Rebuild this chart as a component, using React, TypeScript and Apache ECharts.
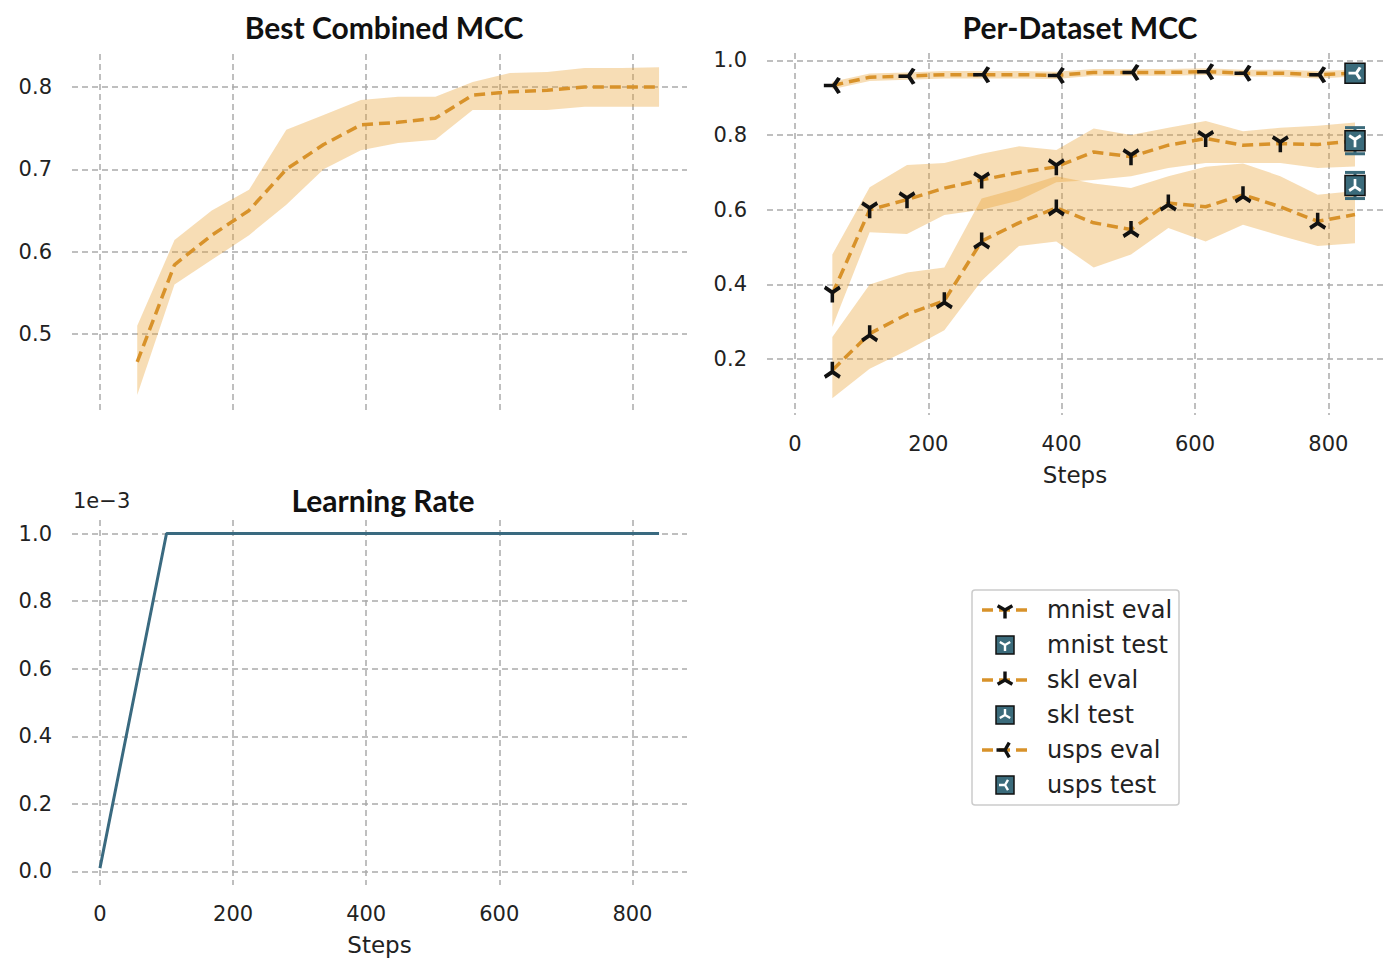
import React, { useEffect, useRef } from 'react';
import * as echarts from 'echarts';

const evalSteps = [56, 112, 168, 224, 280, 336, 392, 448, 504, 560, 616, 672, 728, 784, 840];

const combinedMean = [0.466, 0.584, 0.62, 0.65, 0.7, 0.73, 0.754, 0.757, 0.762, 0.79, 0.794, 0.796, 0.8, 0.8, 0.8];
const combinedUpper = [0.51, 0.614, 0.65, 0.675, 0.748, 0.766, 0.784, 0.788, 0.788, 0.806, 0.817, 0.818, 0.823, 0.823, 0.824];
const combinedLower = [0.426, 0.56, 0.59, 0.62, 0.657, 0.7, 0.723, 0.732, 0.736, 0.772, 0.772, 0.772, 0.776, 0.776, 0.776];

const mnistMean = [0.374, 0.6, 0.627, 0.658, 0.68, 0.7, 0.715, 0.755, 0.742, 0.773, 0.791, 0.773, 0.777, 0.775, 0.784];
const mnistUpper = [0.48, 0.66, 0.72, 0.725, 0.75, 0.77, 0.76, 0.818, 0.8, 0.82, 0.838, 0.81, 0.82, 0.825, 0.834];
const mnistLower = [0.286, 0.54, 0.535, 0.586, 0.6, 0.625, 0.674, 0.68, 0.69, 0.712, 0.725, 0.725, 0.725, 0.712, 0.716];
const mnistMarks = [0, 1, 2, 4, 6, 8, 10, 12];

const sklMean = [0.17, 0.268, 0.32, 0.356, 0.516, 0.565, 0.605, 0.565, 0.547, 0.618, 0.608, 0.64, 0.608, 0.569, 0.587];
const sklUpper = [0.259, 0.4, 0.432, 0.445, 0.63, 0.658, 0.69, 0.67, 0.658, 0.69, 0.715, 0.724, 0.69, 0.64, 0.65];
const sklLower = [0.095, 0.174, 0.223, 0.277, 0.41, 0.503, 0.515, 0.445, 0.48, 0.551, 0.515, 0.56, 0.53, 0.503, 0.51];
const sklMarks = [0, 1, 3, 4, 6, 8, 9, 11, 13];

const uspsMean = [0.933, 0.955, 0.958, 0.962, 0.962, 0.962, 0.96, 0.968, 0.968, 0.968, 0.97, 0.966, 0.966, 0.962, 0.966];
const uspsUpper = [0.943, 0.965, 0.968, 0.972, 0.972, 0.972, 0.97, 0.977, 0.977, 0.977, 0.979, 0.975, 0.975, 0.972, 0.975];
const uspsLower = [0.923, 0.945, 0.948, 0.952, 0.952, 0.952, 0.95, 0.959, 0.959, 0.959, 0.961, 0.957, 0.957, 0.952, 0.957];
const uspsMarks = [0, 2, 4, 6, 8, 10, 11, 13];

const testStep = 840;
const testNames = ['mnist', 'skl', 'usps'];
const testMeans = [0.785, 0.665, 0.966];
const testErrs = [0.035, 0.035, 0.004];

const lrSteps = [0, 100, 840];
const lrValues = [0.01, 1.0, 1.0];

const legendNames = ['mnist eval', 'mnist test', 'skl eval', 'skl test', 'usps eval', 'usps test'];

const ORANGE = '#d8922a';
const BAND = 'rgba(232,160,50,0.36)';
const TEAL = '#3b6b7b';
const GRID = '#ababab';
const T = 'rgba(0,0,0,0)';

// three-armed marker path, arms at given screen angles (deg)
function triPath(angles: number[]) {
  const L = 10, w = 2;
  return angles.map(a => {
    const r = (a * Math.PI) / 180;
    const dx = Math.cos(r), dy = Math.sin(r);
    const nx = -dy * w, ny = dx * w;
    const p = [
      [nx, ny], [dx * L + nx, dy * L + ny], [dx * L - nx, dy * L - ny], [-nx, -ny],
    ];
    return 'M' + p.map(q => q[0].toFixed(2) + ' ' + q[1].toFixed(2)).join(' L') + ' Z';
  }).join(' ');
}
const TRI_DOWN = triPath([90, 210, 330]);
const TRI_UP = triPath([270, 30, 150]);
const TRI_LEFT = triPath([180, 300, 60]);
echarts.graphic.registerShape('triDown', echarts.graphic.extendPath(TRI_DOWN, {}));
echarts.graphic.registerShape('triUp', echarts.graphic.extendPath(TRI_UP, {}));
echarts.graphic.registerShape('triLeft', echarts.graphic.extendPath(TRI_LEFT, {}));

const splitDashed = (colors: string[]) => ({
  show: true,
  lineStyle: { color: colors, type: [6, 4], width: 1.5 },
});

const labelStyle = { color: '#222', fontSize: 21, fontFamily: 'DejaVu Sans' };

function band(xi: number, upper: number[], lower: number[]) {
  return {
    type: 'custom',
    xAxisIndex: xi,
    yAxisIndex: xi,
    clip: false,
    silent: true,
    z: 1,
    data: [[evalSteps[0], upper[0]]],
    renderItem: (params: any, api: any) => {
      const pts: number[][] = [];
      evalSteps.forEach((s, i) => pts.push(api.coord([s, upper[i]])));
      for (let i = evalSteps.length - 1; i >= 0; i--) pts.push(api.coord([evalSteps[i], lower[i]]));
      return { type: 'polygon', shape: { points: pts }, style: { fill: BAND } };
    },
  };
}

function evalLine(xi: number, mean: number[], marks: number[] | null, sym: string) {
  return {
    type: 'line',
    xAxisIndex: xi,
    yAxisIndex: xi,
    z: 3,
    lineStyle: { color: ORANGE, width: 3.5, type: [11, 6] },
    itemStyle: { color: '#111' },
    symbol: 'path://' + sym,
    symbolSize: 17,
    data: evalSteps.map((s, i) =>
      marks && marks.includes(i) ? { value: [s, mean[i]] } : { value: [s, mean[i]], symbol: 'none' }
    ),
  };
}

export default function App() {
  const ref = useRef<HTMLDivElement>(null);

  useEffect(() => {
    document.body.style.margin = '0';
    if (!ref.current) return;
    const chart = echarts.init(ref.current, null, { renderer: 'svg' });

    const testSyms = [TRI_DOWN, TRI_UP, TRI_LEFT];

    const legendItems: any[] = [];
    const lx = 982, ly = 610, lh = 35;
    legendNames.forEach((name, i) => {
      const y = ly + i * lh;
      const kind = i % 2 === 0 ? 'eval' : 'test';
      const shape = ['triDown', 'triUp', 'triLeft'][Math.floor(i / 2)];
      if (kind === 'eval') {
        legendItems.push({
          type: 'line',
          shape: { x1: lx, y1: y, x2: lx + 46, y2: y },
          style: { stroke: ORANGE, lineWidth: 3.5, lineDash: [11, 6] },
        });
        legendItems.push({ type: shape, x: lx + 23, y, scaleX: 0.85, scaleY: 0.85, style: { fill: '#111' } });
      } else {
        legendItems.push({
          type: 'rect',
          shape: { x: lx + 14, y: y - 9, width: 18, height: 18 },
          style: { fill: TEAL, stroke: '#111', lineWidth: 1.5 },
        });
        legendItems.push({ type: shape, x: lx + 23, y, scaleX: 0.6, scaleY: 0.6, style: { fill: '#fff' } });
      }
      legendItems.push({
        type: 'text',
        x: lx + 65,
        y,
        style: { text: name, fontSize: 24, fontFamily: 'DejaVu Sans', fill: '#222', verticalAlign: 'middle' },
      });
    });

    const option: any = {
      animation: false,
      backgroundColor: '#fff',
      title: [
        { text: 'Best Combined MCC', left: 379, top: 7, textAlign: 'center' },
        { text: 'Per-Dataset MCC', left: 1075, top: 7, textAlign: 'center' },
        { text: 'Learning Rate', left: 378, top: 480, textAlign: 'center' },
      ].map(t => ({
        ...t,
        textStyle: { fontFamily: 'Lato', fontWeight: 'bold', fontSize: 30, color: '#111' },
      })),
      grid: [
        { left: 72, top: 54, width: 615, height: 359 },
        { left: 767, top: 53, width: 616, height: 362 },
        { left: 72, top: 520, width: 615, height: 365 },
      ],
      xAxis: [0, 1, 2].map(i => ({
        type: 'value',
        gridIndex: i,
        min: -42,
        max: 882,
        axisLine: { show: false },
        axisTick: { show: false },
        axisLabel: { show: i !== 0, ...labelStyle, margin: 18, showMinLabel: false, showMaxLabel: false },
        splitLine: splitDashed([T, GRID, GRID, GRID, GRID, GRID, T]),
        name: i === 0 ? '' : 'Steps',
        nameLocation: 'middle',
        nameGap: 48,
        nameTextStyle: { ...labelStyle, fontSize: 23 },
      })),
      yAxis: [
        { min: 0.404, max: 0.84, split: [T, GRID, GRID, GRID, GRID, T], fmt: (v: number) => v.toFixed(1) },
        { min: 0.05, max: 1.02, split: [T, GRID, GRID, GRID, GRID, GRID, T], fmt: (v: number) => v.toFixed(1) },
        { min: -0.04, max: 1.04, split: [T, GRID, GRID, GRID, GRID, GRID, GRID, T], fmt: (v: number) => v.toFixed(1) },
      ].map((a, i) => ({
        type: 'value',
        gridIndex: i,
        min: a.min,
        max: a.max,
        axisLine: { show: false },
        axisTick: { show: false },
        axisLabel: { ...labelStyle, margin: 20, showMinLabel: false, showMaxLabel: false, formatter: a.fmt },
        splitLine: splitDashed(a.split),
      })),
      graphic: [
        {
          type: 'text',
          left: 73,
          top: 490,
          style: { text: '1e\u22123', fontSize: 21, fontFamily: 'DejaVu Sans', fill: '#222' },
        },
        {
          type: 'rect',
          shape: { x: 972, y: 590, width: 207, height: 215, r: 3 },
          style: { fill: '#fff', stroke: '#ccc', lineWidth: 1.5 },
        },
        ...legendItems,
      ],
      series: [
        band(0, combinedUpper, combinedLower),
        evalLine(0, combinedMean, null, TRI_DOWN),
        band(1, mnistUpper, mnistLower),
        band(1, sklUpper, sklLower),
        band(1, uspsUpper, uspsLower),
        evalLine(1, mnistMean, mnistMarks, TRI_DOWN),
        evalLine(1, sklMean, sklMarks, TRI_UP),
        evalLine(1, uspsMean, uspsMarks, TRI_LEFT),
        {
          type: 'custom',
          xAxisIndex: 1,
          yAxisIndex: 1,
          z: 4,
          clip: false,
          data: testMeans.map((m, i) => [testStep, m, testErrs[i]]),
          renderItem: (params: any, api: any) => {
            const x = api.value(0), m = api.value(1), e = api.value(2);
            const top = api.coord([x, m + e]);
            const bot = api.coord([x, m - e]);
            const st = { stroke: TEAL, lineWidth: 3 };
            return {
              type: 'group',
              children: [
                { type: 'line', shape: { x1: top[0], y1: top[1], x2: bot[0], y2: bot[1] }, style: st },
                { type: 'line', shape: { x1: top[0] - 10, y1: top[1], x2: top[0] + 10, y2: top[1] }, style: st },
                { type: 'line', shape: { x1: bot[0] - 10, y1: bot[1], x2: bot[0] + 10, y2: bot[1] }, style: st },
              ],
            };
          },
        },
        ...testNames.map((n, i) => ({
          type: 'scatter',
          name: n + ' test',
          xAxisIndex: 1,
          yAxisIndex: 1,
          z: 5,
          symbol: 'rect',
          symbolSize: 20,
          itemStyle: { color: TEAL, borderColor: '#111', borderWidth: 1.5, opacity: 1 },
          data: [[testStep, testMeans[i]]],
        })),
        ...testNames.map((n, i) => ({
          type: 'scatter',
          xAxisIndex: 1,
          yAxisIndex: 1,
          z: 6,
          symbol: 'path://' + testSyms[i],
          symbolSize: 13,
          itemStyle: { color: '#fff', opacity: 1 },
          data: [[testStep, testMeans[i]]],
        })),
        {
          type: 'line',
          xAxisIndex: 2,
          yAxisIndex: 2,
          symbol: 'none',
          lineStyle: { color: '#3a6a80', width: 3 },
          data: lrSteps.map((s, i) => [s, lrValues[i]]),
        },
      ],
    };

    chart.setOption(option);
    return () => chart.dispose();
  }, []);

  return <div ref={ref} style={{ width: '1400px', height: '975px' }} />;
}
